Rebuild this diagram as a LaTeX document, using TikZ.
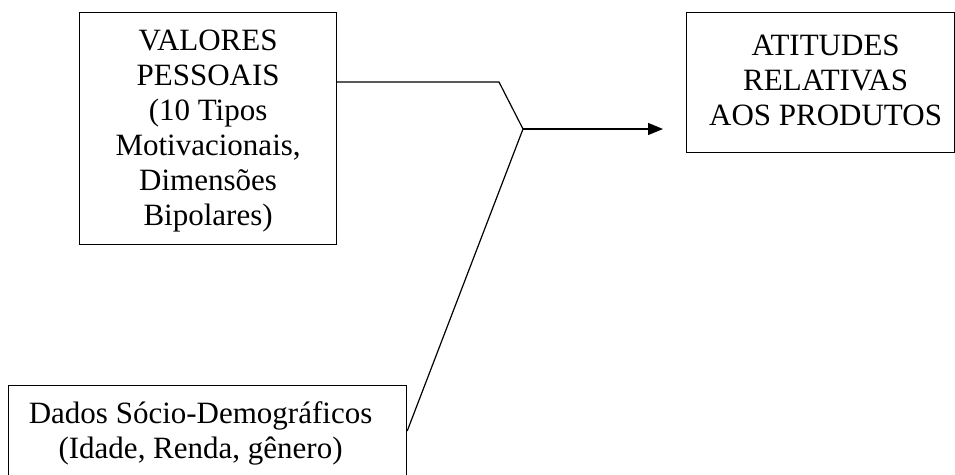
\documentclass[tikz,border=0pt]{standalone}
\usepackage{fontspec}
\setmainfont{Liberation Serif}
\usetikzlibrary{arrows.meta}
% width, height, first-baseline offset, leftskip, rightskip, text
\newcommand{\boxtext}[6]{\begin{minipage}[c][#2][t]{#1}\fontsize{31}{35}\selectfont\centering\leftskip=#4 plus 1fil\relax\rightskip=#5 plus 1fil\relax\rule{0pt}{#3}#6\end{minipage}}
\begin{document}
\begin{tikzpicture}[x=1pt,y=-1pt,
  textbox/.style={draw, line width=1.2pt, inner sep=0pt, anchor=north west},
  conn/.style={line width=1.2pt},
  arr/.style={conn, -{Triangle[length=15pt,width=12pt]}}]
\useasboundingbox (0,0) rectangle (955,474);
\node[textbox] (val) at (79,12) {\boxtext{257pt}{232pt}{38pt}{0pt}{0pt}{VALORES\\PESSOAIS\\(10 Tipos\\Motivacionais,\\Dimensões\\Bipolares)}};
\node[textbox] (att) at (686,12) {\boxtext{268pt}{140pt}{43pt}{10pt}{0pt}{ATITUDES\\RELATIVAS\\AOS PRODUTOS}};
\node[textbox] (dem) at (8,385) {\boxtext{398pt}{110pt}{38pt}{0pt}{14pt}{Dados Sócio-Demográficos\\(Idade, Renda, gênero)}};
\coordinate (k) at (499,82);
\coordinate (j) at (523,129);
\draw[conn] (val.east |- k) -- (k) -- (j);
\draw[conn] (j) -- ([yshift=-46pt]dem.north east);
\draw[arr] (j) -- ([xshift=-23pt]att.west |- j);
\end{tikzpicture}
\end{document}
